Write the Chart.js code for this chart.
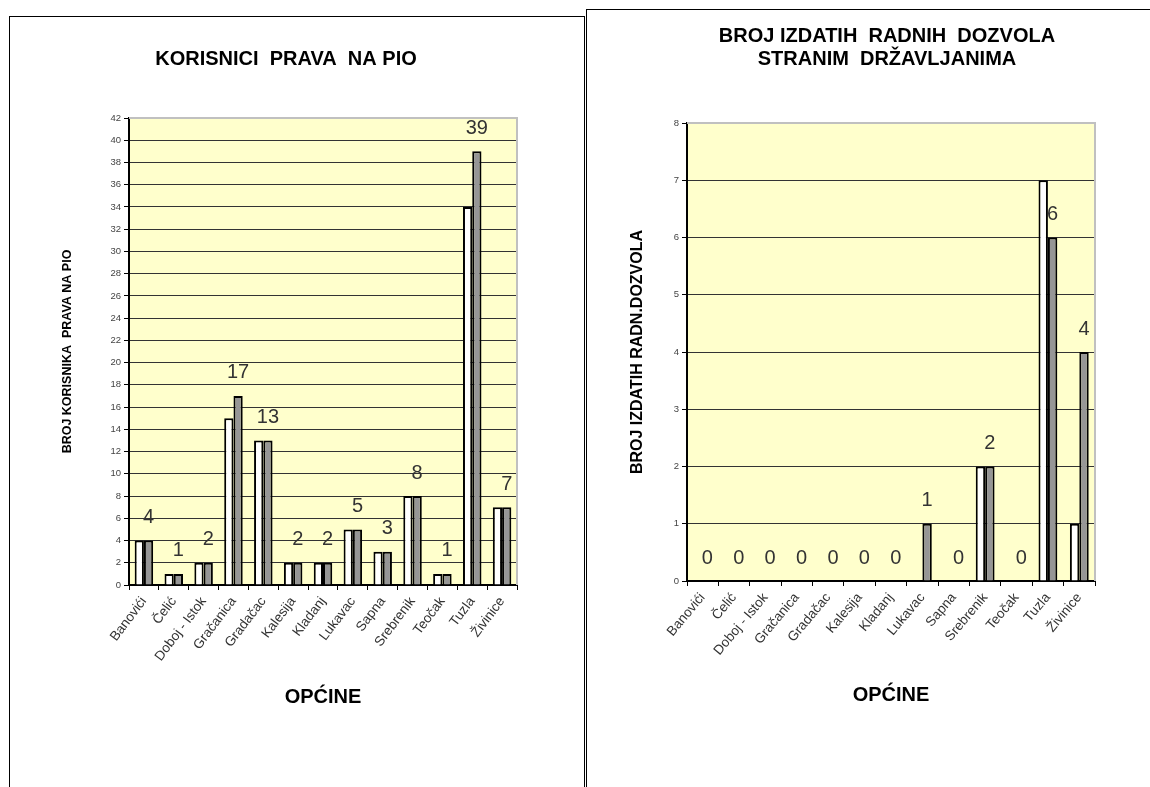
<!DOCTYPE html>
<html>
<head>
<meta charset="utf-8">
<title>Korisnici prava na PIO / Radne dozvole</title>
<script src="https://cdn.jsdelivr.net/npm/chart.js@4.4.1/dist/chart.umd.min.js"></script>
<style>
    html, body { margin: 0; padding: 0; background: #fff; }
    body { width: 1150px; height: 787px; position: relative; overflow: hidden; }
    .panel { position: absolute; border: 1px solid #000; background: #fff; }
    #panel-left { left: 9px; top: 16px; width: 574px; height: 800px; }
    #panel-right { left: 586px; top: 9px; width: 600px; height: 800px; }
    canvas { position: absolute; }
    #pio-chart { left: 10px; top: 17px; }
    #dozvole-chart { left: 588px; top: 10px; }
</style>
</head>
<body>
<div class="panel" id="panel-left"></div>
<div class="panel" id="panel-right"></div>
<canvas id="pio-chart" width="574" height="770"></canvas>
<canvas id="dozvole-chart" width="562" height="777"></canvas>

<script>
/* ===== Data ===== */
var opcine = ["Banovići", "Čelić", "Doboj - Istok", "Gračanica", "Gradačac", "Kalesija", "Kladanj",
    "Lukavac", "Sapna", "Srebrenik", "Teočak", "Tuzla", "Živinice"];

// Korisnici prava na PIO (white / gray series)
var pioPrva = [4, 1, 2, 15, 13, 2, 2, 5, 3, 8, 1, 34, 7];
var pioDruga = [4, 1, 2, 17, 13, 2, 2, 5, 3, 8, 1, 39, 7];
var pioMax = 42;
var pioStep = 2;

// Izdate radne dozvole stranim državljanima
var dozvolePrva = [0, 0, 0, 0, 0, 0, 0, 0, 0, 2, 0, 7, 1];
var dozvoleDruga = [0, 0, 0, 0, 0, 0, 0, 1, 0, 2, 0, 6, 4];
var dozvoleMax = 8;
var dozvoleStep = 1;

var FONT = "Arial, 'Liberation Sans', sans-serif";

/* --- Yellow plot background + gray top/right edge --- */
var plotFrame = {
    id: "plotFrame",
    beforeDraw: function (chart) {
        var a = chart.chartArea;
        var ctx = chart.ctx;
        ctx.save();
        ctx.fillStyle = "#FFFFCC";
        ctx.fillRect(a.left, a.top, a.right - a.left, a.bottom - a.top);
        ctx.restore();
    },
    beforeDatasetsDraw: function (chart) {
        var a = chart.chartArea;
        var ctx = chart.ctx;
        ctx.save();
        ctx.strokeStyle = "#c0c0c0";
        ctx.lineWidth = 2;
        ctx.beginPath();
        ctx.moveTo(a.left, a.top);
        ctx.lineTo(a.right, a.top);
        ctx.lineTo(a.right, a.bottom);
        ctx.stroke();
        ctx.restore();
    }
};

/* --- Value labels above the gray bars --- */
var valueLabels = {
    id: "valueLabels",
    afterDatasetsDraw: function (chart) {
        var ctx = chart.ctx;
        var meta = chart.getDatasetMeta(1);
        var values = chart.data.datasets[1].data;
        ctx.save();
        ctx.font = "20px " + FONT;
        ctx.fillStyle = "#333";
        ctx.textAlign = "center";
        ctx.textBaseline = "middle";
        meta.data.forEach(function (bar, i) {
            ctx.fillText(String(values[i]), bar.x, bar.y - 23);
        });
        ctx.restore();
    }
};

/* --- Build one chart --- */
function makeChart(canvasId, cfg) {
    var scales = {
        x: {
            offset: true,
            grid: { drawOnChartArea: false, drawTicks: true, tickLength: 5, tickColor: "#000", offset: true },
            border: { display: true, color: "#000", width: 2 },
            ticks: {
                color: "#333",
                font: { family: FONT, size: 13.5 },
                minRotation: cfg.rotation,
                maxRotation: cfg.rotation,
                autoSkip: false,
                padding: 4
            },
            title: {
                display: true,
                text: "OPĆINE",
                color: "#000",
                font: { family: FONT, size: 20, weight: "bold" },
                padding: { top: 0, bottom: 0 }
            },
            afterFit: function (scale) { scale.height = cfg.xHeight; }
        },
        y: {
            min: 0,
            max: cfg.max,
            grid: {
                color: function (c) { return c.tick && c.tick.value === cfg.max ? "#c0c0c0" : "#333"; },
                lineWidth: 1,
                tickLength: 5,
                tickColor: "#000"
            },
            border: { display: true, color: "#000", width: 2 },
            ticks: {
                stepSize: cfg.step,
                color: "#444",
                font: { family: FONT, size: 9.5 },
                padding: 3
            },
            title: {
                display: true,
                text: cfg.yTitle,
                color: "#000",
                font: { family: FONT, size: cfg.yTitleSize, weight: "bold" },
                padding: { top: cfg.yTitlePad, bottom: 0 }
            },
            afterFit: function (scale) { scale.width = cfg.yWidth; }
        }
    };

    // empty right-hand axis, only reserves room right of the plot
    if (cfg.rightGap) {
        scales.gap = {
            type: "linear",
            position: "right",
            display: true,
            grid: { display: false, drawTicks: false },
            border: { display: false },
            ticks: { display: false },
            afterFit: function (scale) { scale.width = cfg.rightGap; }
        };
    }

    return new Chart(document.getElementById(canvasId), {
        type: "bar",
        data: {
            labels: opcine,
            datasets: [
                {
                    data: cfg.first,
                    backgroundColor: "#ffffff",
                    borderColor: "#000",
                    borderWidth: 2,
                    borderSkipped: "bottom",
                    barPercentage: 1,
                    categoryPercentage: cfg.catPct
                },
                {
                    data: cfg.second,
                    backgroundColor: "#969696",
                    borderColor: "#000",
                    borderWidth: 2,
                    borderSkipped: "bottom",
                    barPercentage: 1,
                    categoryPercentage: cfg.catPct
                }
            ]
        },
        options: {
            responsive: false,
            animation: false,
            devicePixelRatio: 1,
            layout: { padding: cfg.padding },
            scales: scales,
            plugins: {
                legend: { display: false },
                tooltip: { enabled: false },
                title: {
                    display: true,
                    text: cfg.title,
                    color: "#000",
                    font: { family: FONT, size: 20, weight: "bold", lineHeight: cfg.titleLH },
                    padding: cfg.titlePad
                }
            }
        },
        plugins: [plotFrame, valueLabels]
    });
}

makeChart("pio-chart", {
    first: pioPrva,
    second: pioDruga,
    max: pioMax,
    step: pioStep,
    title: "KORISNICI  PRAVA  NA PIO",
    titleLH: 1.2,
    titlePad: { top: 30, bottom: 47 },
    yTitle: "BROJ KORISNIKA  PRAVA NA PIO",
    yTitleSize: 12.5,
    yTitlePad: 5.5,
    yWidth: 74,
    xHeight: 124,
    rotation: 53,
    catPct: 0.62,
    padding: { left: 45, right: 67, top: 0, bottom: 78 }
});

makeChart("dozvole-chart", {
    first: dozvolePrva,
    second: dozvoleDruga,
    max: dozvoleMax,
    step: dozvoleStep,
    title: ["BROJ IZDATIH  RADNIH  DOZVOLA", "STRANIM  DRŽAVLJANIMA"],
    titleLH: 1.165,
    titlePad: { top: 15, bottom: 51.4 },
    yTitle: "BROJ IZDATIH RADN.DOZVOLA",
    yTitleSize: 16,
    yTitlePad: 4,
    yWidth: 63,
    xHeight: 126,
    rotation: 50,
    catPct: 0.6,
    rightGap: 55,
    padding: { left: 36, right: 0, top: 0, bottom: 80 }
});
</script>
</body>
</html>
